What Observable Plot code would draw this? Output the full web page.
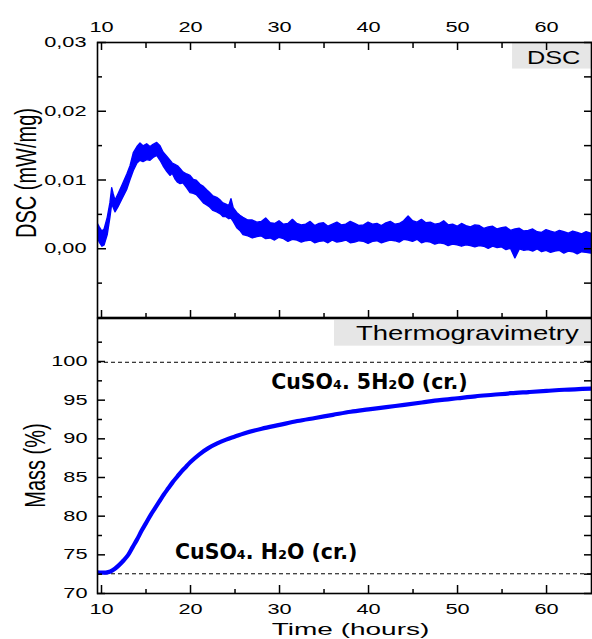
<!DOCTYPE html>
<html><head><meta charset="utf-8">
<script src="https://cdn.jsdelivr.net/npm/d3@7"></script>
<script src="https://cdn.jsdelivr.net/npm/@observablehq/plot@0.6"></script>
<style>
html,body{margin:0;padding:0;background:#fff;}
#chart{position:relative;width:592px;height:639px;overflow:hidden;background:#fff;}
#chart svg{position:absolute;left:0;overflow:visible;}
</style></head><body><div id="chart"></div>
<script>
// ---------- data ----------
// DSC signal (noisy trace given as lower / upper envelope), in µW/mg
const dscTimeEarly = [9.55, 9.8, 10.1, 10.35, 10.7, 11.0, 11.2, 11.35, 11.57, 11.9, 12.36, 12.9, 13.26, 13.63, 14.04, 14.38, 14.72, 15.13, 15.5, 15.85, 16.26, 16.63, 16.97, 17.38, 17.75, 18.0, 18.3, 18.6, 18.88, 19.2, 19.63, 20.0, 20.37, 20.7, 21.12, 21.5, 21.87, 22.2, 22.58, 23.0, 23.4, 23.7, 24.04, 24.35, 24.6, 24.85, 25.25, 25.6, 25.95, 26.5];
const dscTimeLate = d3.range(27, 65.01, 0.5);
const dscTime = dscTimeEarly.concat(dscTimeLate);
const dscLow = [1.7,0.9,0.3,0.5,2.0, 4.5,6.5,6.0,5.3,6.0, 7.2,8.6,10.0,11.3,12.4, 12.8,12.6,12.9,12.8,13.2, 13.5,12.8,12.0,11.2,10.6, 10.9,10.1,9.6,9.4,9.5, 8.8,8.1,8.0,7.8,7.2, 6.6,6.3,6.0,5.5,5.3, 5.0,4.6,4.6,4.3,4.4, 3.9,3.0,2.6,2.0,1.8,
  1.5,1.7,1.8,1.4,1.5,1.2,1.6,1.4,1.0,1.3,
  1.2,0.9,1.1,1.2,0.8,1.0,1.1,0.8,1.2,0.9,
  1.0,1.2,0.8,0.9,1.1,1.0,0.7,1.0,1.1,0.8,
  1.0,1.2,1.1,0.9,1.3,1.2,1.0,1.3,0.8,1.0,
  0.9,0.6,0.8,0.7,0.4,0.6,0.5,0.3,0.5,0.4,
  0.2,0.4,0.3,0.0,0.3,0.1,0.2,-0.2,0.0,-1.4,
  -0.1,-0.3,-0.2,-0.4,-0.1,-0.5,-0.3,-0.6,-0.4,-0.3,
  -0.7,-0.4,-0.5,-0.8,-0.5,-0.6,-0.7];
const dscHigh = [3.7,3.1,2.5,2.8,4.5, 6.6,8.8,8.0,7.0,7.9, 9.2,10.8,12.0,13.9,14.8, 15.3,14.9,15.2,14.8,15.1, 15.4,14.9,14.0,13.4,12.8, 12.4,12.2,12.0,11.6,11.1, 10.8,10.6,10.0,9.9,9.3, 9.0,8.5,8.1,7.6,7.4, 7.0,6.6,6.4,6.2,7.2, 5.9,5.2,4.8,4.5,4.1,
  4.1,3.8,3.9,4.4,3.7,3.6,4.0,3.5,3.6,4.2,
  3.6,3.4,3.5,3.9,3.3,3.6,3.7,3.2,3.5,3.8,
  3.4,3.5,3.9,3.6,3.3,3.4,3.8,3.5,3.6,3.3,
  3.7,3.9,3.5,3.6,4.0,4.7,4.0,3.8,4.2,3.7,
  3.8,3.5,3.6,4.0,3.4,3.5,3.2,3.6,3.3,3.1,
  3.4,3.3,2.9,3.1,3.2,2.8,3.0,3.1,2.6,2.8,
  2.9,2.5,2.6,2.8,2.4,2.3,2.7,2.5,2.3,2.6,
  2.4,2.2,2.5,2.3,2.1,2.4,2.2];

// Thermogravimetry, mass %
const tgTime = [9.55, 10, 10.5, 11, 11.5, 12, 12.5, 13, 13.5, 14, 14.5, 15, 15.5, 16, 16.5, 17, 17.5, 18, 18.5, 19, 19.5, 20, 21, 22, 23, 24, 25, 26, 28, 30, 32, 34, 36, 38, 40, 42, 44, 46, 48, 50, 52, 54, 56, 58, 60, 62, 65.05];
const tgMass = [72.75, 72.7, 72.7, 72.85, 73.2, 73.7, 74.3, 75.0, 76.0, 77.0, 78.1, 79.1, 80.1, 81.0, 81.9, 82.8, 83.6, 84.4, 85.1, 85.8, 86.4, 87.0, 88.0, 88.8, 89.4, 89.9, 90.3, 90.7, 91.3, 91.8, 92.3, 92.7, 93.1, 93.5, 93.8, 94.1, 94.4, 94.7, 95.0, 95.25, 95.5, 95.7, 95.9, 96.05, 96.2, 96.35, 96.5];
const plateauMass = [99.9, 72.55];
const annotations = [
  {t: 40.1, m: 97.35, label: "CuSO\u2084. 5H\u2082O (cr.)"},
  {t: 28.5, m: 75.25, label: "CuSO\u2084. H\u2082O (cr.)"}
];

// axes
const xDomain = [9.55, 65.05];
const xTicks = [10, 20, 30, 40, 50, 60];
const xMinor = [15, 25, 35, 45, 55];
const dscDomain = [-0.01, 0.03];
const dscTicks = [0, 0.01, 0.02, 0.03];
const dscMinor = [-0.005, 0.005, 0.015, 0.025];
const massDomain = [70, 105.56];
const massTicks = [70, 75, 80, 85, 90, 95, 100];
const massMinor = [72.5, 77.5, 82.5, 87.5, 92.5, 97.5, 102.5];
const dscTag = {x1: 56.18, x2: 65.05, y1: 0.02614, y2: 0.03, tx: 60.8, ty: 0.0277, label: "DSC"};
const tgTag = {x1: 36.18, x2: 64.94, y1: 101.98, y2: 105.3, tx: 51.1, ty: 103.6, label: "Thermogravimetry"};

// ---------- drawing ----------
const blue = "#0000ff";
const font = "'Liberation Sans', Arial, sans-serif";
const tickFont = {fontSize: 14.5, fontFamily: font, fill: "#000"};
const comma = d => d.toFixed(2).replace(".", ",");
const tk = {fill: "none", label: null, stroke: "#000", strokeWidth: 1.5};

const dscRows = dscTime.map((t, i) => ({t, lo: dscLow[i] / 1000, hi: dscHigh[i] / 1000}));
const tgRows = tgTime.map((t, i) => ({t, m: tgMass[i]}));

const topPlot = Plot.plot({
  width: 592, height: 318,
  marginLeft: 97, marginRight: 1, marginTop: 42, marginBottom: 1,
  style: {background: "transparent", color: "#000", fontFamily: font, overflow: "visible"},
  x: {domain: xDomain},
  y: {domain: dscDomain},
  marks: [
    Plot.rect([dscTag], {x1: "x1", x2: "x2", y1: "y1", y2: "y2", fill: "#e6e6e6"}),
    Plot.text([dscTag], {x: "tx", y: "ty", text: "label", fontSize: 18.6, fontFamily: font, fill: "#000", lineAnchor: "middle"}),
    Plot.areaY(dscRows, {x: "t", y1: "lo", y2: "hi", fill: blue, stroke: blue, strokeWidth: 1.4, clip: true}),
    // top axis (ticks inward)
    Plot.axisX(xTicks, {anchor: "top", tickSize: 7, dy: 7, ...tk}),
    Plot.axisX(xMinor, {anchor: "top", tickSize: 5, dy: 5, ...tk}),
    Plot.axisX(xTicks, {anchor: "top", tickSize: 0, tickPadding: 11, label: null, ...tickFont}),
    // bottom ticks (inward)
    Plot.axisX(xTicks, {anchor: "bottom", tickSize: 7, dy: -7, ...tk}),
    Plot.axisX(xMinor, {anchor: "bottom", tickSize: 4, dy: -4, ...tk}),
    // left axis
    Plot.axisY(dscTicks, {anchor: "left", tickSize: 9, dx: 9, ...tk}),
    Plot.axisY(dscMinor, {anchor: "left", tickSize: 5, dx: 5, ...tk}),
    Plot.axisY(dscTicks, {anchor: "left", tickSize: 0, tickPadding: 11, tickFormat: comma, label: null, ...tickFont}),
    // right axis
    Plot.axisY(dscTicks.concat(dscMinor), {anchor: "right", tickSize: 8, dx: -8, ...tk}),
    Plot.text(["DSC (mW/mg)"], {frameAnchor: "left", textAnchor: "middle", dx: -71.5, dy: -7, rotate: -90, fontSize: 20, fontFamily: font, fill: "#000", lineAnchor: "middle"}),
    Plot.frame({stroke: "#000", strokeWidth: 1.6})
  ]
});

const botPlot = Plot.plot({
  width: 592, height: 322,
  marginLeft: 97, marginRight: 1, marginTop: 1, marginBottom: 46,
  style: {background: "transparent", color: "#000", fontFamily: font, overflow: "visible"},
  x: {domain: xDomain},
  y: {domain: massDomain},
  marks: [
    Plot.rect([tgTag], {x1: "x1", x2: "x2", y1: "y1", y2: "y2", fill: "#e6e6e6"}),
    Plot.text([tgTag], {x: "tx", y: "ty", text: "label", fontSize: 20.5, fontFamily: font, fill: "#000", lineAnchor: "middle"}),
    Plot.ruleY(plateauMass, {stroke: "#000", strokeWidth: 1, strokeDasharray: "4,3"}),
    Plot.line(tgRows, {x: "t", y: "m", stroke: blue, strokeWidth: 4.2, curve: "catmull-rom", clip: true}),
    Plot.text(annotations, {x: "t", y: "m", text: "label", fontSize: 20.5, fontFamily: "'DejaVu Sans', Verdana, sans-serif", fontWeight: "bold", fill: "#000", lineAnchor: "middle"}),
    // bottom axis
    Plot.axisX(xTicks, {anchor: "bottom", tickSize: 8, dy: -8, ...tk}),
    Plot.axisX(xMinor, {anchor: "bottom", tickSize: 4, dy: -4, ...tk}),
    Plot.axisX(xTicks, {anchor: "bottom", tickSize: 0, tickPadding: 10, label: null, ...tickFont}),
    // left axis
    Plot.axisY(massTicks, {anchor: "left", tickSize: 8, dx: 8, ...tk}),
    Plot.axisY(massMinor, {anchor: "left", tickSize: 5, dx: 5, ...tk}),
    Plot.axisY(massTicks, {anchor: "left", tickSize: 0, tickPadding: 10, label: null, ...tickFont}),
    // right axis
    Plot.axisY(massTicks.concat(massMinor), {anchor: "right", tickSize: 8, dx: -8, ...tk}),
    Plot.text(["Mass (%)"], {frameAnchor: "left", textAnchor: "middle", dx: -62, dy: 9.5, rotate: -90, fontSize: 20, fontFamily: font, fill: "#000", lineAnchor: "middle"}),
    Plot.text(["Time (hours)"], {frameAnchor: "bottom", dx: 6, dy: 36, fontSize: 16, fontFamily: font, fill: "#000", lineAnchor: "middle"}),
    Plot.frame({stroke: "#000", strokeWidth: 1.6})
  ]
});

// horizontal stretch of the lettering, as in the reference picture
function stretch(svg) {
  d3.select(svg).selectAll("text").each(function () {
    const s = this.textContent;
    let f = null;
    if (/^[0-9]/.test(s)) f = "scale(1.5,1)";
    else if (s === "Time (hours)") f = "scale(1.75,1)";
    else if (s === "DSC") f = "scale(1.36,1)";
    else if (s === "Thermogravimetry") f = "scale(1.34,1)";
    else if (s === "DSC (mW/mg)" || s === "Mass (%)") f = "scale(1,1.5)";
    if (f) this.setAttribute("transform", (this.getAttribute("transform") || "") + " " + f);
  });
}
stretch(topPlot); stretch(botPlot);

topPlot.style.top = "0px";
botPlot.style.top = "317px";
const chart = document.getElementById("chart");
chart.appendChild(topPlot);
chart.appendChild(botPlot);
</script>
</body></html>
